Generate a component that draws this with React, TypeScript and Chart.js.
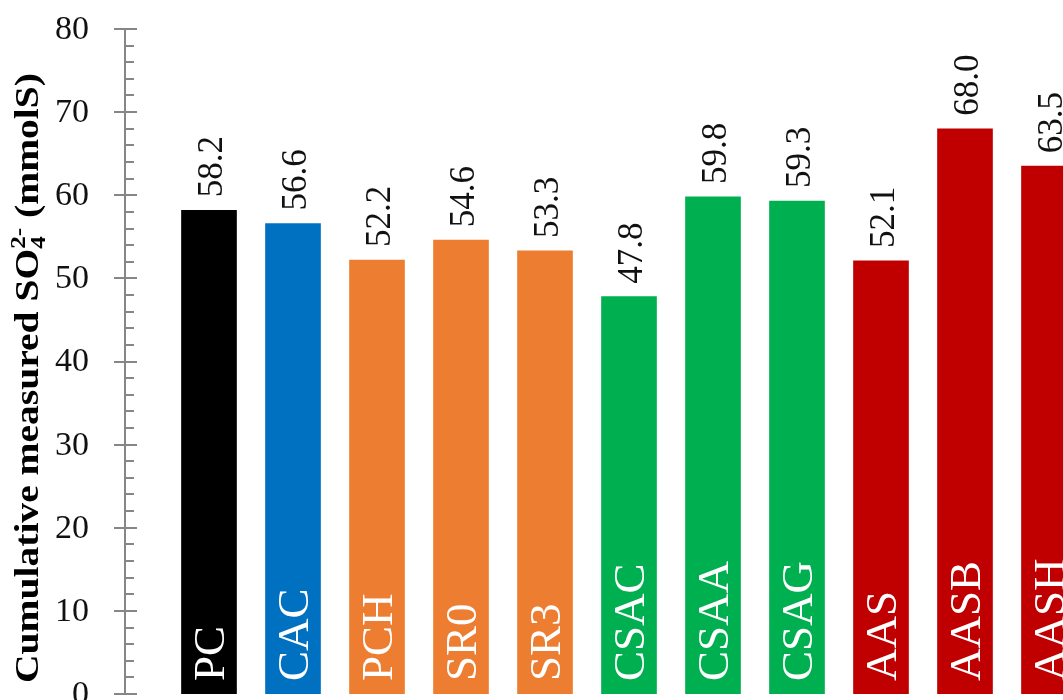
import React, { useEffect, useRef } from 'react';
import { Chart, registerables } from 'chart.js';

Chart.register(...registerables);

const categories = ['PC', 'CAC', 'PCH', 'SR0', 'SR3', 'CSAC', 'CSAA', 'CSAG', 'AAS', 'AASB', 'AASH'];
const values = [58.2, 56.6, 52.2, 54.6, 53.3, 47.8, 59.8, 59.3, 52.1, 68.0, 63.5];
const barColors = ['#000000', '#0070C0', '#ED7D31', '#ED7D31', '#ED7D31', '#00B050', '#00B050', '#00B050', '#C00000', '#C00000', '#C00000'];
const yMin = 0;
const yMax = 80;
const yMajorStep = 10;
const yMinorStep = 2;
const titleMain = 'Cumulative measured SO';
const titleSub = '4';
const titleSup = '2-';
const titleEnd = ' (mmolS)';

const AXIS_COLOR = '#868686';

const axisPlugin = {
  id: 'customAxis',
  afterDraw(chart: any) {
    const ctx = chart.ctx;
    const ys = chart.scales.y;
    const x0 = chart.chartArea.left;
    ctx.save();
    ctx.strokeStyle = AXIS_COLOR;
    ctx.lineWidth = 2;
    ctx.beginPath();
    ctx.moveTo(x0, ys.getPixelForValue(yMin));
    ctx.lineTo(x0, ys.getPixelForValue(yMax));
    ctx.stroke();
    for (let v = yMin; v <= yMax + 1e-9; v += yMinorStep) {
      const py = Math.round(ys.getPixelForValue(v));
      const major = Math.abs(v / yMajorStep - Math.round(v / yMajorStep)) < 1e-9;
      ctx.beginPath();
      if (major) {
        ctx.moveTo(x0 - 11, py);
        ctx.lineTo(x0 + 12, py);
      } else {
        ctx.moveTo(x0, py);
        ctx.lineTo(x0 + 9, py);
      }
      ctx.stroke();
    }
    // tick labels
    ctx.fillStyle = '#111111';
    ctx.font = '34px "Liberation Serif"';
    ctx.textAlign = 'right';
    ctx.textBaseline = 'middle';
    ys.ticks.forEach((t: any) => {
      ctx.fillText(String(t.value), x0 - 36, ys.getPixelForValue(t.value) + 1);
    });
    ctx.restore();
  },
};

const labelsPlugin = {
  id: 'barLabels',
  afterDatasetsDraw(chart: any) {
    const ctx = chart.ctx;
    const meta = chart.getDatasetMeta(0);
    meta.data.forEach((bar: any, i: number) => {
      const { x, y, base } = bar.getProps(['x', 'y', 'base'], true);
      ctx.save();
      ctx.translate(x + 15, base - 13);
      ctx.rotate(-Math.PI / 2);
      ctx.font = '45px "Liberation Serif"';
      ctx.fillStyle = '#ffffff';
      ctx.textAlign = 'left';
      ctx.textBaseline = 'alphabetic';
      ctx.fillText(categories[i], 0, 0);
      ctx.restore();

      ctx.save();
      ctx.translate(x + 13, y - 13);
      ctx.rotate(-Math.PI / 2);
      ctx.font = '35px "Liberation Serif"';
      ctx.fillStyle = '#111111';
      ctx.textAlign = 'left';
      ctx.textBaseline = 'alphabetic';
      ctx.fillText(values[i].toFixed(1), 0, 0);
      ctx.restore();
    });
  },
};

const titlePlugin = {
  id: 'yTitle',
  afterDraw(chart: any) {
    const ctx = chart.ctx;
    const fs = 33;
    const small = Math.round(fs * 0.65);
    const mainFont = `bold ${fs}px "Liberation Serif"`;
    const smallFont = `bold ${small}px "Liberation Serif"`;
    ctx.save();
    ctx.font = mainFont;
    const w1 = ctx.measureText(titleMain).width;
    const w4 = ctx.measureText(titleEnd).width;
    ctx.font = smallFont;
    const w2 = ctx.measureText(titleSub).width;
    const w3 = ctx.measureText(titleSup).width;
    const total = w1 + Math.max(w2, w3) + w4;
    const target = 610;
    const sx = target / total;
    const centerY = 378;
    ctx.translate(38, centerY + target / 2);
    ctx.rotate(-Math.PI / 2);
    ctx.scale(sx, 1);
    ctx.fillStyle = '#000000';
    ctx.textAlign = 'left';
    ctx.textBaseline = 'alphabetic';
    ctx.font = mainFont;
    ctx.fillText(titleMain, 0, 0);
    ctx.font = smallFont;
    ctx.fillText(titleSub, w1, fs * 0.22);
    ctx.fillText(titleSup, w1, -fs * 0.4);
    ctx.font = mainFont;
    ctx.fillText(titleEnd, w1 + Math.max(w2, w3), 0);
    ctx.restore();
  },
};

export default function App() {
  const ref = useRef<HTMLCanvasElement | null>(null);

  useEffect(() => {
    if (!ref.current) return;
    const chart = new Chart(ref.current, {
      type: 'bar',
      data: {
        datasets: [
          {
            data: values.map((v, i) => ({ x: i, y: v })),
            backgroundColor: barColors,
            borderWidth: 0,
            barThickness: 55,
          },
        ],
      },
      options: {
        animation: false,
        responsive: false,
        maintainAspectRatio: false,
        layout: { padding: { left: 0, top: 29, right: 0, bottom: 46 } },
        plugins: {
          legend: { display: false },
          tooltip: { enabled: false },
          title: { display: false },
        },
        scales: {
          x: {
            type: 'linear',
            min: -1,
            max: 11,
            offset: false,
            display: false,
            grid: { display: false, offset: false },
          },
          y: {
            min: yMin,
            max: yMax,
            afterFit(scale: any) {
              scale.width = 125;
            },
            ticks: {
              display: false,
              stepSize: yMajorStep,
            },
            grid: { display: false, drawTicks: false },
            border: { display: false },
          },
        },
      },
      plugins: [labelsPlugin, axisPlugin, titlePlugin],
    });
    return () => chart.destroy();
  }, []);

  return (
    <div
      style={{
        position: 'fixed',
        left: 0,
        top: 0,
        width: 1063,
        height: 700,
        overflow: 'hidden',
        background: '#ffffff',
      }}
    >
      <canvas ref={ref} width={1133} height={740} style={{ width: 1133, height: 740, display: 'block' }} />
    </div>
  );
}
